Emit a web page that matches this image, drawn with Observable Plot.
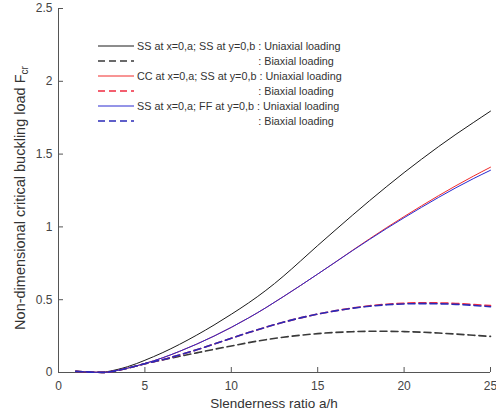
<!DOCTYPE html>
<html>
<head>
<meta charset="utf-8">
<script src="https://cdn.jsdelivr.net/npm/d3@7"></script>
<script src="https://cdn.jsdelivr.net/npm/@observablehq/plot@0.6"></script>
<style>
  html, body { margin: 0; padding: 0; background: #fff; }
  #wrap { position: relative; width: 496px; height: 414px; }
  svg { font-family: "Liberation Sans", Arial, sans-serif; }
</style>
</head>
<body>
<div id="wrap"></div>
<script>
// ---- data ----
const slenderness = [1, 1.5, 2, 2.5, 3, 4, 5, 6, 7, 8, 9, 10, 11, 12, 13, 14, 15, 16, 17, 18, 19, 20, 21, 22, 23, 24, 25];
const ssUniaxial = [0.008, 0.005, 0.002, 0.002, 0.01, 0.04, 0.084, 0.135, 0.193, 0.257, 0.326, 0.40, 0.478, 0.564, 0.66, 0.765, 0.872, 0.976, 1.079, 1.18, 1.278, 1.373, 1.464, 1.552, 1.636, 1.716, 1.795];
const ssBiaxial  = [0.008, 0.005, 0.002, 0.001, 0.005, 0.03, 0.06, 0.086, 0.111, 0.135, 0.159, 0.182, 0.205, 0.225, 0.242, 0.256, 0.267, 0.275, 0.28, 0.283, 0.283, 0.281, 0.277, 0.271, 0.264, 0.256, 0.248];
const ccUniaxial = [0.008, 0.005, 0.002, 0.001, 0.005, 0.03, 0.062, 0.1, 0.145, 0.195, 0.25, 0.31, 0.375, 0.445, 0.52, 0.597, 0.676, 0.756, 0.838, 0.918, 0.996, 1.071, 1.144, 1.215, 1.283, 1.348, 1.41];
const ccBiaxial  = [0.008, 0.005, 0.002, 0.001, 0.005, 0.03, 0.06, 0.088, 0.12, 0.156, 0.195, 0.235, 0.274, 0.311, 0.345, 0.375, 0.401, 0.423, 0.443, 0.458, 0.469, 0.476, 0.479, 0.478, 0.474, 0.467, 0.459];
const ffUniaxial = [0.008, 0.005, 0.002, 0.001, 0.005, 0.03, 0.062, 0.1, 0.145, 0.195, 0.25, 0.31, 0.375, 0.445, 0.52, 0.597, 0.676, 0.756, 0.836, 0.914, 0.99, 1.063, 1.134, 1.203, 1.269, 1.331, 1.389];
const ffBiaxial  = [0.008, 0.005, 0.002, 0.001, 0.005, 0.03, 0.06, 0.088, 0.12, 0.156, 0.195, 0.235, 0.274, 0.311, 0.345, 0.375, 0.401, 0.423, 0.441, 0.455, 0.465, 0.471, 0.473, 0.472, 0.468, 0.461, 0.452];

const xTicks = [0, 5, 10, 15, 20, 25];
const yTicks = [0, 0.5, 1, 1.5, 2, 2.5];

const seriesNames = [
  "SS at x=0,a; SS at y=0,b : Uniaxial loading",
  ": Biaxial loading",
  "CC at x=0,a; SS at y=0,b : Uniaxial loading",
  ": Biaxial loading",
  "SS at x=0,a; FF at y=0,b : Uniaxial loading",
  ": Biaxial loading"
];
const seriesValues = [ssUniaxial, ssBiaxial, ccUniaxial, ccBiaxial, ffUniaxial, ffBiaxial];
const seriesColors = ["#1a1a1a", "#3a3a3a", "#f02a2a", "#f02a40", "#2a2ad0", "#2a2ab8"];
const seriesDashed = [false, true, false, true, false, true];

const xLabel = "Slenderness ratio a/h";
const yLabelMain = "Non-dimensional critical buckling load F";
const yLabelSub = "cr";

// ---- build table ----
const rows = [];
seriesValues.forEach((vals, s) => {
  vals.forEach((v, i) => rows.push({series: s, x: slenderness[i], y: v}));
});

const W = 496, H = 414;
const mL = 58, mR = 6, mT = 8, mB = 42;
const axisColor = "#555";
const textColor = "#444";

const marks = [];
marks.push(Plot.ruleY([0], {stroke: axisColor, strokeWidth: 1}));
marks.push(Plot.ruleX([0], {stroke: axisColor, strokeWidth: 1}));
// inward ticks
marks.push(Plot.axisX({ticks: xTicks, tickSize: 5, dy: -5, tickFormat: () => "", label: null, stroke: axisColor}));
marks.push(Plot.axisY({ticks: yTicks, tickSize: 5, dx: 5, tickFormat: () => "", label: null, stroke: axisColor}));
// tick labels
marks.push(Plot.axisX({ticks: xTicks, tickSize: 0, tickPadding: 9, fontSize: 12, fill: textColor, label: null, tickFormat: d => String(d)}));
marks.push(Plot.axisY({ticks: yTicks, tickSize: 0, tickPadding: 6, fontSize: 12, fill: textColor, label: null, tickFormat: d => String(d)}));

seriesValues.forEach((_, s) => {
  marks.push(Plot.line(rows.filter(r => r.series === s), {
    x: "x", y: "y", curve: "natural",
    stroke: seriesColors[s],
    strokeWidth: seriesDashed[s] ? 1.6 : 1,
    strokeDasharray: seriesDashed[s] ? "7,4" : null
  }));
});

const chart = Plot.plot({
  width: W, height: H,
  marginLeft: mL, marginRight: mR, marginTop: mT, marginBottom: mB,
  x: {domain: [0, 25]},
  y: {domain: [0, 2.5]},
  style: {fontFamily: "'Liberation Sans', Arial, sans-serif", background: "#fff", overflow: "visible"},
  marks
});
document.getElementById("wrap").appendChild(chart);

const svg = d3.select(chart);
// x label
svg.append("text")
  .attr("x", mL + (W - mL - mR) / 2).attr("y", 408)
  .attr("text-anchor", "middle")
  .attr("font-size", 13.5).attr("fill", "#333")
  .text(xLabel);
// y label with subscript
const yl = svg.append("text")
  .attr("transform", `translate(25, 198) rotate(-90)`)
  .attr("text-anchor", "middle")
  .attr("font-size", 14.5).attr("fill", "#333");
yl.append("tspan").text(yLabelMain);
yl.append("tspan").attr("font-size", 10).attr("dy", 3).text(yLabelSub);

// legend
const legX0 = 98, legX1 = 134, legTx = 137, legY0 = 46, legDy = 15;
const leg = svg.append("g").attr("font-size", 10.8).attr("fill", "#333").attr("text-anchor", "start");
// align the ": Biaxial" colon with the colon of the uniaxial entry
const probe = leg.append("text").attr("x", 0).attr("y", -100).text(seriesNames[0].slice(0, seriesNames[0].indexOf(":")));
const colonOffset = probe.node().getComputedTextLength();
probe.remove();
seriesNames.forEach((name, i) => {
  const y = legY0 + i * legDy;
  leg.append("line")
    .attr("x1", legX0).attr("x2", legX1).attr("y1", y).attr("y2", y)
    .attr("stroke", seriesColors[i])
    .attr("stroke-width", seriesDashed[i] ? 1.6 : 1)
    .attr("stroke-dasharray", seriesDashed[i] ? "7,4" : null);
  leg.append("text")
    .attr("x", seriesDashed[i] ? legTx + colonOffset : legTx).attr("y", y).attr("dy", "0.35em")
    .text(name);
});
</script>
</body>
</html>
